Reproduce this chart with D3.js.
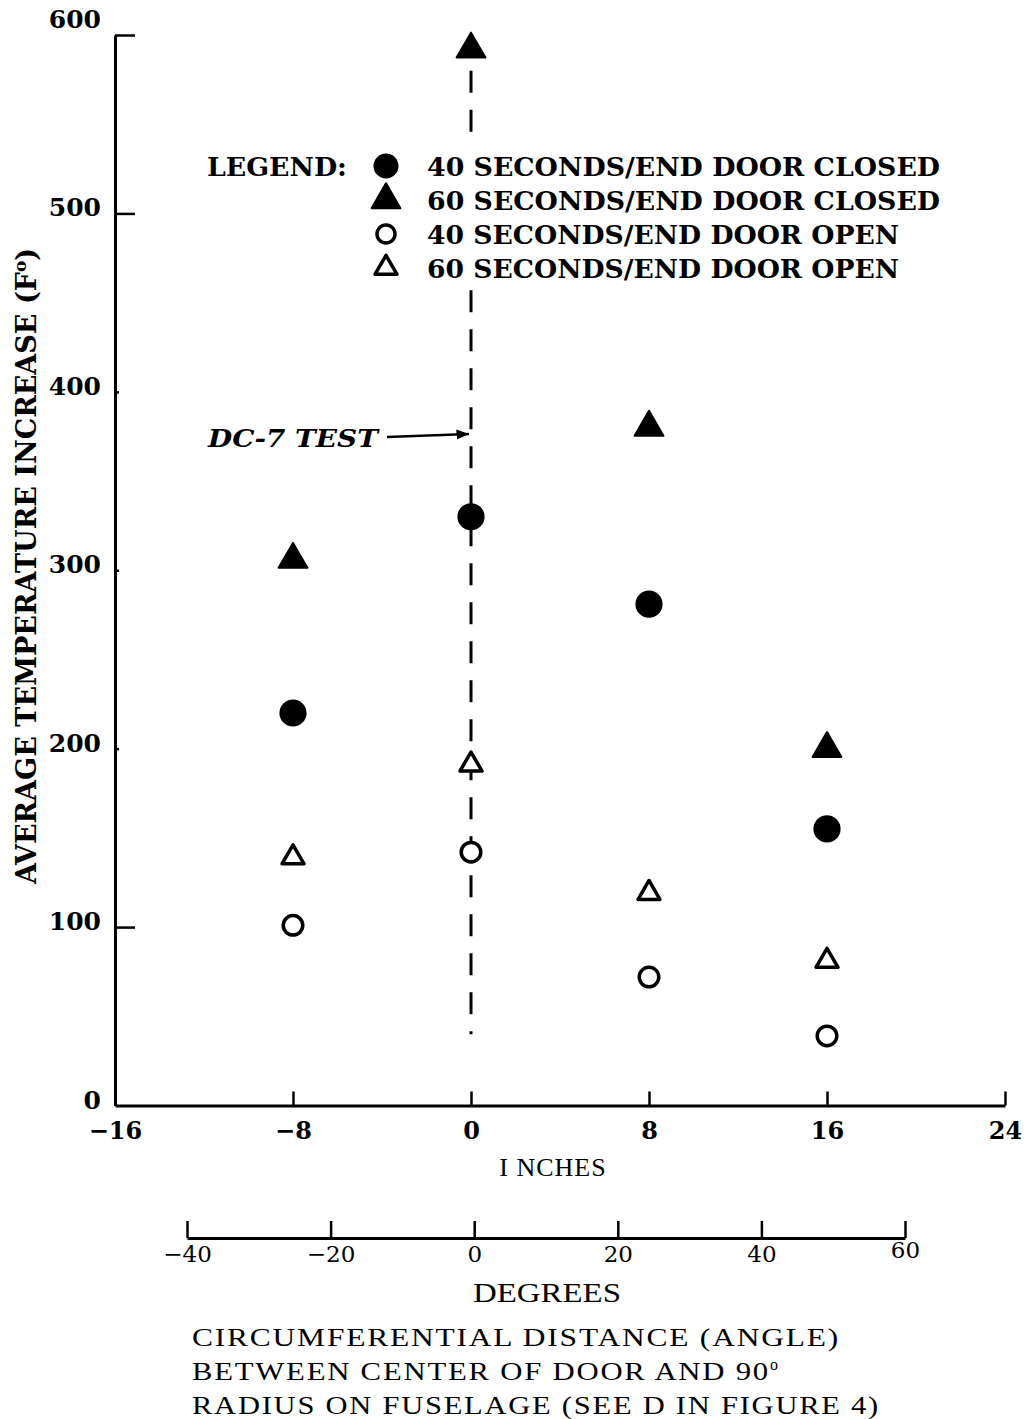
<!DOCTYPE html>
<html>
<head>
<meta charset="utf-8">
<script src="https://cdn.jsdelivr.net/npm/d3@7"></script>
<style>
  body { margin: 0; background: #fff; }
  svg { display: block; }
  .type { font-family: "DejaVu Serif", "Liberation Serif", serif; }
  .serif { font-family: "Liberation Serif", "DejaVu Serif", serif; }
</style>
</head>
<body>
<svg id="chart"></svg>
<script>
// data
const inches = [-8, 0, 8, 16];
const closed40 = [220, 330, 281, 155];
const closed60 = [306, 592, 380, 200];
const open40 = [101, 142, 72, 39];
const open60 = [139, 191, 119, 81];

const yTicks = [0, 100, 200, 300, 400, 500, 600];
const inchTicks = [-16, -8, 0, 8, 16, 24];
const degreeTicks = [-40, -20, 0, 20, 40, 60];

// DC-7 test line, broken where the legend sits
const dcSegments = [[580, 542], [457, 40]];

const legendLabels = [
  "40 SECONDS/END DOOR CLOSED",
  "60 SECONDS/END DOOR CLOSED",
  "40 SECONDS/END DOOR OPEN",
  "60 SECONDS/END DOOR OPEN"
];
const captionLines = [
  "CIRCUMFERENTIAL DISTANCE (ANGLE)",
  "BETWEEN CENTER OF DOOR AND 90",
  "RADIUS ON FUSELAGE (SEE D IN FIGURE 4)"
];

const width = 1027, height = 1419;
const svg = d3.select("#chart").attr("width", width).attr("height", height);

const x = d3.scaleLinear().domain([-16, 24]).range([115, 1005]);
const y = d3.scaleLinear().domain([0, 600]).range([1105.5, 35]);
const xDeg = d3.scaleLinear().domain([-40, 60]).range([187, 905]);

// series styles
const series = [
  { values: closed40, type: d3.symbolCircle, size: 580, open: false },
  { values: closed60, type: d3.symbolTriangle, size: 360, open: false },
  { values: open40, type: d3.symbolCircle, size: 300, open: true },
  { values: open60, type: d3.symbolTriangle, size: 210, open: true }
];

// y axis
const yAxis = svg.append("g")
  .attr("transform", `translate(${x(-16)},0)`)
  .call(d3.axisLeft(y).tickValues(yTicks).tickSizeInner(-20).tickSizeOuter(0).tickPadding(14));
yAxis.select(".domain").attr("stroke-width", 3);
yAxis.selectAll(".tick line")
  .attr("stroke-width", 2.5)
  .attr("x2", d => (d >= 200 && d <= 400) ? 4 : (d === 0 ? 0 : 20));
yAxis.selectAll(".tick text")
  .attr("class", "type")
  .attr("font-size", 25)
  .attr("font-weight", "bold")
  .attr("fill", "#000")
  .attr("dy", d => d === 600 ? "-0.3em" : "0.1em");

// x axis (inches)
const xAxis = svg.append("g")
  .attr("transform", `translate(0,${y(0)})`)
  .call(d3.axisBottom(x).tickValues(inchTicks).tickSizeInner(-14).tickSizeOuter(0).tickPadding(16));
xAxis.select(".domain").attr("stroke-width", 3);
xAxis.selectAll(".tick line").attr("stroke-width", 2.5).attr("y2", d => d === -16 ? 0 : -14);
xAxis.selectAll(".tick text")
  .attr("class", "type")
  .attr("font-size", 24)
  .attr("font-weight", "bold")
  .attr("fill", "#000");

svg.append("text")
  .attr("class", "serif")
  .attr("x", 553).attr("y", 1176)
  .attr("text-anchor", "middle")
  .attr("font-size", 26)
  .attr("letter-spacing", 1)
  .text("I NCHES");

// degrees axis
const dAxis = svg.append("g")
  .attr("transform", "translate(0,1238)")
  .call(d3.axisBottom(xDeg).tickValues(degreeTicks).tickSizeInner(-17).tickSizeOuter(0).tickPadding(8));
dAxis.select(".domain").attr("stroke-width", 3);
dAxis.selectAll(".tick line").attr("stroke-width", 2.5);
dAxis.selectAll(".tick text")
  .attr("class", "type")
  .attr("font-size", 23)
  .attr("fill", "#000")
  .attr("dy", d => d === 60 ? "0.5em" : "0.71em");

svg.append("text")
  .attr("class", "serif")
  .attr("x", 547).attr("y", 1302)
  .attr("text-anchor", "middle")
  .attr("font-size", 27)
  .attr("textLength", 148)
  .attr("lengthAdjust", "spacingAndGlyphs")
  .text("DEGREES");

// caption
svg.append("g").selectAll("text")
  .data(captionLines)
  .join("text")
  .attr("class", "serif")
  .attr("x", 192)
  .attr("y", (d, i) => 1346 + i * 34)
  .attr("font-size", 26)
  .attr("letter-spacing", 1.5)
  .each(function (d, i) {
    const t = d3.select(this);
    t.append("tspan").text(d)
      .attr("textLength", [648, 578, 688][i])
      .attr("lengthAdjust", "spacingAndGlyphs");
    if (i === 1) {
      t.append("tspan").attr("dy", -10).attr("font-size", 16).text("o");
    }
  });

// y axis title
const yTitle = svg.append("text")
  .attr("class", "type")
  .attr("transform", "translate(36,566) rotate(-90)")
  .attr("text-anchor", "middle")
  .attr("font-size", 27)
  .attr("font-weight", "bold");
yTitle.append("tspan").text("AVERAGE TEMPERATURE INCREASE (F")
  .attr("textLength", 612).attr("lengthAdjust", "spacingAndGlyphs");
yTitle.append("tspan").attr("dy", -10).attr("font-size", 17).text("o");
yTitle.append("tspan").attr("dy", 10).text(")");

// DC-7 dashed reference line
svg.append("g").selectAll("line")
  .data(dcSegments)
  .join("line")
  .attr("x1", x(0)).attr("x2", x(0))
  .attr("y1", d => y(d[0])).attr("y2", d => y(d[1]))
  .attr("stroke", "#000")
  .attr("stroke-width", 3)
  .attr("stroke-dasharray", "22,17");

svg.append("defs").append("marker")
  .attr("id", "arrow")
  .attr("viewBox", "0 0 10 10")
  .attr("refX", 10).attr("refY", 5)
  .attr("markerWidth", 5).attr("markerHeight", 5)
  .attr("orient", "auto")
  .append("path").attr("d", "M0,1 L10,5 L0,9 Z").attr("fill", "#000");

svg.append("line")
  .attr("x1", 387).attr("y1", 437)
  .attr("x2", x(0) - 2).attr("y2", 434)
  .attr("stroke", "#000").attr("stroke-width", 2.5)
  .attr("marker-end", "url(#arrow)");

svg.append("text")
  .attr("class", "type")
  .attr("x", 208).attr("y", 447)
  .attr("font-size", 25)
  .attr("font-weight", "bold")
  .attr("font-style", "italic")
  .attr("textLength", 170)
  .attr("lengthAdjust", "spacingAndGlyphs")
  .text("DC-7 TEST");

// data points
series.forEach(s => {
  svg.append("g").selectAll("path")
    .data(s.values)
    .join("path")
    .attr("transform", (d, i) => `translate(${x(inches[i])},${y(d)})`)
    .attr("d", d3.symbol().type(s.type).size(s.size))
    .attr("fill", s.open ? "#fff" : "#000")
    .attr("stroke", s.open || s.type === d3.symbolTriangle ? "#000" : "none")
    .attr("stroke-width", s.open ? 3.5 : 2)
    .attr("stroke-linejoin", "round");
});

// legend
svg.append("text")
  .attr("class", "type")
  .attr("x", 207).attr("y", 176)
  .attr("font-size", 26)
  .attr("font-weight", "bold")
  .attr("textLength", 140)
  .attr("lengthAdjust", "spacingAndGlyphs")
  .text("LEGEND:");

const legend = svg.append("g").selectAll("g")
  .data(series)
  .join("g")
  .attr("transform", (d, i) => `translate(386,${166 + i * 34})`);

legend.append("path")
  .attr("d", d => d3.symbol().type(d.type).size(d.type === d3.symbolCircle ? d.size * 0.85 : d.size)())
  .attr("fill", d => d.open ? "#fff" : "#000")
  .attr("stroke", d => d.open || d.type === d3.symbolTriangle ? "#000" : "none")
  .attr("stroke-width", d => d.open ? 3.5 : 2)
  .attr("stroke-linejoin", "round");

legend.append("text")
  .attr("class", "type")
  .attr("x", 41).attr("y", 10)
  .attr("font-size", 26)
  .attr("font-weight", "bold")
  .attr("textLength", (d, i) => [513, 513, 472, 472][i])
  .attr("lengthAdjust", "spacingAndGlyphs")
  .text((d, i) => legendLabels[i]);
</script>
</body>
</html>
